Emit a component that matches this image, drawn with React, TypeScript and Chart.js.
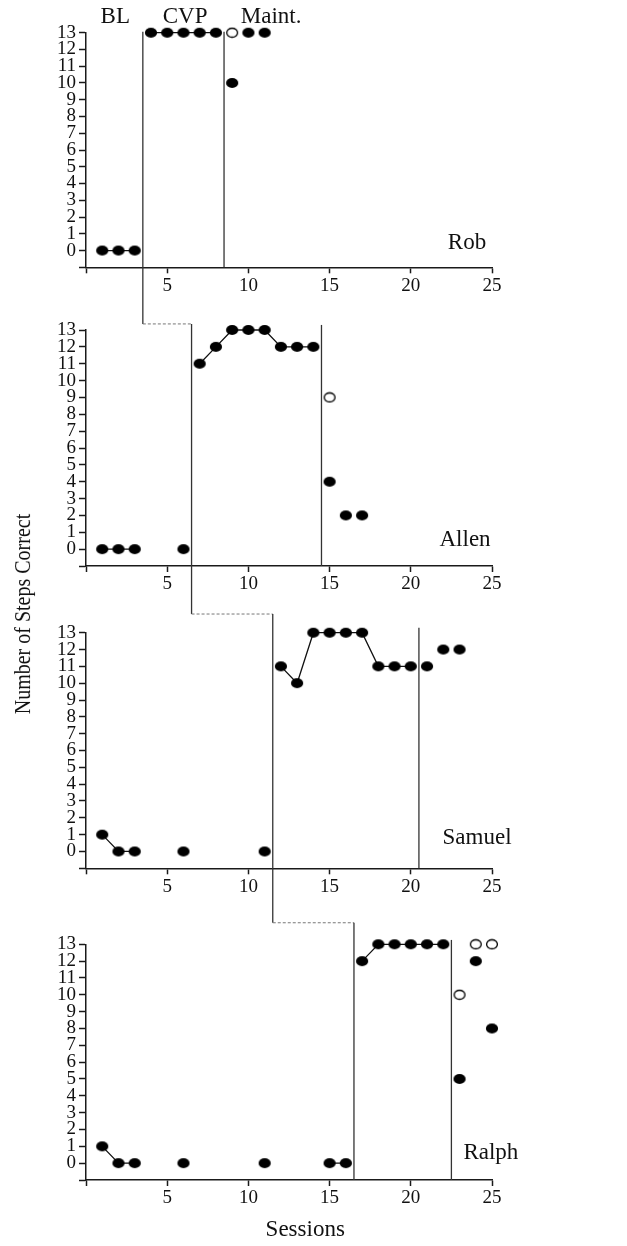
import React, { useEffect, useRef } from 'react';
import { Chart, registerables } from 'chart.js';

Chart.register(...registerables);

// ---------- data ----------
const participants = ['Rob', 'Allen', 'Samuel', 'Ralph'];
const phaseLabels = ['BL', 'CVP', 'Maint.'];
const phaseLabelSessions = [1.8, 6.1, 11.4];
const phaseLabelLevel = 13.94;
const xAxisTitle = 'Sessions';
const xAxisTitleSession = 13.5;
const yAxisTitle = 'Number of Steps Correct';

const xTickValues = [0, 5, 10, 15, 20, 25];
const xTickLabels = ['', '5', '10', '15', '20', '25'];
const yTickValues = [-1, 0, 1, 2, 3, 4, 5, 6, 7, 8, 9, 10, 11, 12, 13];
const yTickLabels = ['', '0', '1', '2', '3', '4', '5', '6', '7', '8', '9', '10', '11', '12', '13'];

const robBaselineSessions = [1, 2, 3];
const robBaselineSteps = [0, 0, 0];
const robCvpSessions = [4, 5, 6, 7, 8];
const robCvpSteps = [13, 13, 13, 13, 13];
const robMaintSessions = [9, 10, 11];
const robMaintSteps = [10, 13, 13];
const robProbeSessions = [9];
const robProbeSteps = [13];

const allenBaselineSessions = [1, 2, 3, 6];
const allenBaselineSteps = [0, 0, 0, 0];
const allenCvpSessions = [7, 8, 9, 10, 11, 12, 13, 14];
const allenCvpSteps = [11, 12, 13, 13, 13, 12, 12, 12];
const allenMaintSessions = [15, 16, 17];
const allenMaintSteps = [4, 2, 2];
const allenProbeSessions = [15];
const allenProbeSteps = [9];

const samuelBaselineSessions = [1, 2, 3, 6, 11];
const samuelBaselineSteps = [1, 0, 0, 0, 0];
const samuelCvpSessions = [12, 13, 14, 15, 16, 17, 18, 19, 20];
const samuelCvpSteps = [11, 10, 13, 13, 13, 13, 11, 11, 11];
const samuelMaintSessions = [21, 22, 23];
const samuelMaintSteps = [11, 12, 12];
const samuelProbeSessions: number[] = [];
const samuelProbeSteps: number[] = [];

const ralphBaselineSessions = [1, 2, 3, 6, 11, 15, 16];
const ralphBaselineSteps = [1, 0, 0, 0, 0, 0, 0];
const ralphCvpSessions = [17, 18, 19, 20, 21, 22];
const ralphCvpSteps = [12, 13, 13, 13, 13, 13];
const ralphMaintSessions = [23, 24, 25];
const ralphMaintSteps = [5, 12, 8];
const ralphProbeSessions = [23, 24, 25];
const ralphProbeSteps = [10, 13, 13];

const phaseChanges = [
  [3.5, 8.5],
  [6.5, 14.5],
  [11.5, 20.5],
  [16.5, 22.5],
];
const firstLineTops = [13.05, 13.36, 14.11, 14.28];
const secondLineTops = [13.05, 13.3, 13.3, 13.26];
const nameSessions = [23.46, 23.34, 24.08, 24.93];
const nameLevels = [0.46, 0.52, 0.8, 0.6];

const panelData = [
  { bs: robBaselineSessions, bv: robBaselineSteps, cs: robCvpSessions, cv: robCvpSteps, ms: robMaintSessions, mv: robMaintSteps, ps: robProbeSessions, pv: robProbeSteps },
  { bs: allenBaselineSessions, bv: allenBaselineSteps, cs: allenCvpSessions, cv: allenCvpSteps, ms: allenMaintSessions, mv: allenMaintSteps, ps: allenProbeSessions, pv: allenProbeSteps },
  { bs: samuelBaselineSessions, bv: samuelBaselineSteps, cs: samuelCvpSessions, cv: samuelCvpSteps, ms: samuelMaintSessions, mv: samuelMaintSteps, ps: samuelProbeSessions, pv: samuelProbeSteps },
  { bs: ralphBaselineSessions, bv: ralphBaselineSteps, cs: ralphCvpSessions, cv: ralphCvpSteps, ms: ralphMaintSessions, mv: ralphMaintSteps, ps: ralphProbeSessions, pv: ralphProbeSteps },
];

// ---------- layout ----------
const PAGE_W = 627;
const PAGE_H = 1246;
const bandTops = [0, 312, 600, 905, PAGE_H];
const topPx = [32.7, 330, 632.7, 944.3];
const axisPx = [267.3, 566, 868.3, 1180];
const xTitlePx = 1230;
const PLOT_LEFT = 86;
const PLOT_RIGHT = 492;
const SERIF = '"Liberation Serif", "Times New Roman", serif';
const INK = '#1a1a1a';

function connected(sessions: number[], steps: number[]) {
  const out: { x: number; y: number | null }[] = [];
  sessions.forEach((s, i) => {
    if (i > 0 && s - sessions[i - 1] > 1) out.push({ x: (s + sessions[i - 1]) / 2, y: null });
    out.push({ x: s, y: steps[i] });
  });
  return out;
}
function points(sessions: number[], steps: number[]) {
  return sessions.map((s, i) => ({ x: s, y: steps[i] }));
}

function makeMarker(filled: boolean) {
  const c = document.createElement('canvas');
  c.width = 14;
  c.height = 12;
  const g = c.getContext('2d')!;
  g.beginPath();
  if (filled) {
    g.ellipse(7, 6, 6.1, 5, 0, 0, Math.PI * 2);
    g.fillStyle = '#000';
    g.fill();
  } else {
    g.ellipse(7, 6, 5.4, 4.5, 0, 0, Math.PI * 2);
    g.fillStyle = '#fff';
    g.fill();
    g.lineWidth = 1.3;
    g.strokeStyle = '#000';
    g.stroke();
  }
  return c;
}

function Panel({ index }: { index: number }) {
  const ref = useRef<HTMLCanvasElement | null>(null);
  const bandH = bandTops[index + 1] - bandTops[index];

  useEffect(() => {
    const canvas = ref.current;
    if (!canvas) return;
    const d = panelData[index];
    const filled = makeMarker(true);
    const open = makeMarker(false);
    const isLast = index === participants.length - 1;
    const lineStyle = {
      borderColor: '#111',
      borderWidth: 1.3,
      pointStyle: filled,
      pointRadius: 6,
      spanGaps: false,
      clip: false as any,
      showLine: true,
    };

    const phasePlugin = {
      id: 'phases' + index,
      beforeDatasetsDraw(chart: any) {
        const ctx = chart.ctx;
        const xs = chart.scales.x;
        const ys = chart.scales.y;
        const [p1, p2] = phaseChanges[index];
        const cY = ys.getPixelForValue(firstLineTops[index]);
        ctx.save();
        ctx.lineCap = 'butt';
        if (index > 0) {
          const prevX = xs.getPixelForValue(phaseChanges[index - 1][0]);
          ctx.strokeStyle = '#333';
          ctx.lineWidth = 1.3;
          ctx.beginPath();
          ctx.moveTo(prevX, 0);
          ctx.lineTo(prevX, cY);
          ctx.stroke();
          ctx.setLineDash([3, 2]);
          ctx.strokeStyle = '#777';
          ctx.lineWidth = 1;
          ctx.beginPath();
          ctx.moveTo(prevX, cY);
          ctx.lineTo(xs.getPixelForValue(p1), cY);
          ctx.stroke();
          ctx.setLineDash([]);
        }
        ctx.strokeStyle = '#333';
        ctx.lineWidth = 1.3;
        const x1 = xs.getPixelForValue(p1);
        ctx.beginPath();
        ctx.moveTo(x1, cY);
        ctx.lineTo(x1, isLast ? ys.bottom : chart.height);
        ctx.stroke();
        const x2 = xs.getPixelForValue(p2);
        ctx.beginPath();
        ctx.moveTo(x2, ys.getPixelForValue(secondLineTops[index]));
        ctx.lineTo(x2, ys.bottom);
        ctx.stroke();

        ctx.fillStyle = '#111';
        ctx.font = `23px ${SERIF}`;
        ctx.textAlign = 'center';
        ctx.textBaseline = 'middle';
        ctx.fillText(participants[index], xs.getPixelForValue(nameSessions[index]), ys.getPixelForValue(nameLevels[index]));
        if (index === 0) {
          phaseLabels.forEach((t, k) => {
            ctx.fillText(t, xs.getPixelForValue(phaseLabelSessions[k]), ys.getPixelForValue(phaseLabelLevel));
          });
        }
        if (isLast) {
          ctx.fillText(xAxisTitle, xs.getPixelForValue(xAxisTitleSession), xTitlePx - bandTops[index]);
        }
        ctx.restore();
      },
    };

    const chart = new Chart(canvas, {
      type: 'line',
      data: {
        datasets: [
          { ...lineStyle, data: connected(d.bs, d.bv) },
          { ...lineStyle, data: connected(d.cs, d.cv) },
          { ...lineStyle, showLine: false, data: points(d.ms, d.mv) },
          { ...lineStyle, showLine: false, pointStyle: open, data: points(d.ps, d.pv) },
        ] as any,
      },
      options: {
        animation: false,
        responsive: false,
        events: [],
        layout: {
          padding: { top: topPx[index] - bandTops[index], left: 0, right: PAGE_W - PLOT_RIGHT, bottom: 0 },
        },
        plugins: { legend: { display: false }, tooltip: { enabled: false } },
        scales: {
          x: {
            type: 'linear',
            min: 0,
            max: 25,
            afterBuildTicks: (s: any) => {
              s.ticks = xTickValues.map((v) => ({ value: v }));
            },
            afterFit: (s: any) => {
              s.height = bandH - (axisPx[index] - bandTops[index]);
            },
            ticks: {
              callback: (v: any) => xTickLabels[xTickValues.indexOf(Number(v))] ?? '',
              color: '#111',
              font: { family: SERIF, size: 19 },
              padding: 1,
              maxRotation: 0,
              autoSkip: false,
            },
            grid: { drawOnChartArea: false, drawTicks: true, tickLength: 6, tickColor: INK, tickWidth: 1.5 },
            border: { display: true, color: INK, width: 1.5 },
          },
          y: {
            type: 'linear',
            min: -1,
            max: 13,
            afterBuildTicks: (s: any) => {
              s.ticks = yTickValues.map((v) => ({ value: v }));
            },
            afterFit: (s: any) => {
              s.width = PLOT_LEFT;
            },
            ticks: {
              callback: (v: any) => yTickLabels[yTickValues.indexOf(Number(v))] ?? '',
              color: '#111',
              font: { family: SERIF, size: 19 },
              padding: 3,
              autoSkip: false,
            },
            grid: { drawOnChartArea: false, drawTicks: true, tickLength: 7, tickColor: INK, tickWidth: 1.5 },
            border: { display: true, color: INK, width: 1.5 },
          },
        },
      } as any,
      plugins: [phasePlugin],
    });
    return () => chart.destroy();
  }, [index]);

  return (
    <canvas
      ref={ref}
      width={PAGE_W}
      height={bandH}
      style={{ position: 'absolute', left: 0, top: bandTops[index], width: PAGE_W, height: bandH }}
    />
  );
}

export default function App() {
  return (
    <div style={{ position: 'absolute', left: 0, top: 0, width: PAGE_W, height: PAGE_H, background: '#fff', overflow: 'hidden' }}>
      {participants.map((_, i) => (
        <Panel key={i} index={i} />
      ))}
      <div
        style={{
          position: 'absolute',
          left: 22 - 150,
          top: 614 - 13,
          width: 300,
          height: 26,
          lineHeight: '26px',
          textAlign: 'center',
          fontFamily: SERIF,
          fontSize: 20,
          color: '#111',
          whiteSpace: 'nowrap',
          transform: 'rotate(-90deg) scale(1, 1.15)',
        }}
      >
        {yAxisTitle}
      </div>
    </div>
  );
}
